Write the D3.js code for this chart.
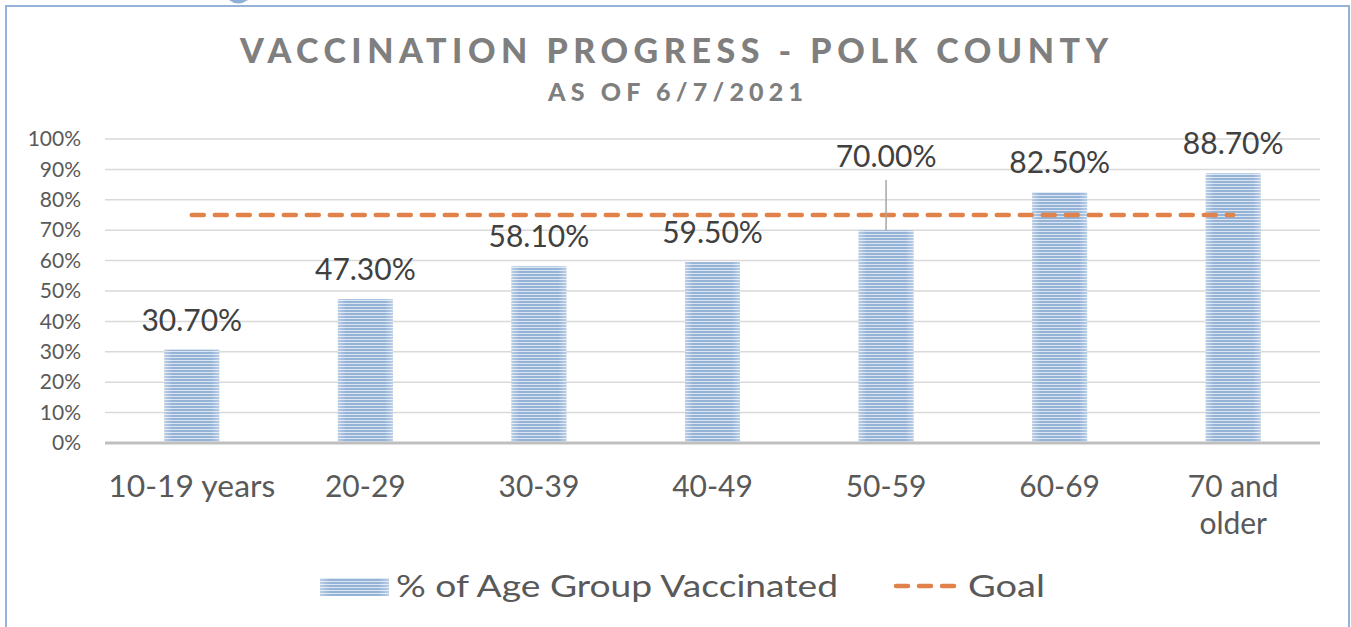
<!DOCTYPE html>
<html>
<head>
<meta charset="utf-8">
<script src="https://cdn.jsdelivr.net/npm/d3@7"></script>
<style>
  body { margin: 0; background: #fff; }
  svg { display: block; font-family: Lato, "Noto Sans", sans-serif; }
</style>
</head>
<body>
<svg id="chart"></svg>
<script>
// data
const ageGroups = ['10-19 years', '20-29', '30-39', '40-49', '50-59', '60-69', '70 and older'];
const pctVaccinated = [0.307, 0.473, 0.581, 0.595, 0.700, 0.825, 0.887];
const goalValues = [0.75, 0.75, 0.75, 0.75, 0.75, 0.75, 0.75];
const yTicks = [0, 0.1, 0.2, 0.3, 0.4, 0.5, 0.6, 0.7, 0.8, 0.9, 1.0];
const seriesNames = ['% of Age Group Vaccinated', 'Goal'];
const titleText = 'VACCINATION PROGRESS - POLK COUNTY';
const subtitleText = 'AS OF 6/7/2021';

class BarGoalChart {
    constructor(_config) {
        this.config = {
            parentElement: _config.parentElement,
            containerWidth: _config.containerWidth || 1351,
            containerHeight: _config.containerHeight || 627,
            margin: {top: 139, right: 31, bottom: 184, left: 105}
        };
        this.initVis();
    }

    initVis() {
        let vis = this;
        vis.width = vis.config.containerWidth - vis.config.margin.left - vis.config.margin.right;
        vis.height = vis.config.containerHeight - vis.config.margin.top - vis.config.margin.bottom;

        vis.svg = d3.select(vis.config.parentElement)
            .attr('width', vis.config.containerWidth)
            .attr('height', vis.config.containerHeight);

        // striped fill for the bars
        const defs = vis.svg.append('defs');
        const pat = defs.append('pattern')
            .attr('id', 'stripes')
            .attr('patternUnits', 'userSpaceOnUse')
            .attr('width', 8).attr('height', 3);
        pat.append('rect').attr('width', 8).attr('height', 3).attr('fill', '#dbe5f1');
        pat.append('rect').attr('width', 8).attr('height', 2).attr('fill', '#95b3d7');

        const grad = defs.append('linearGradient').attr('id', 'edgeGlow');
        grad.append('stop').attr('offset', '0%').attr('stop-color', '#fff').attr('stop-opacity', 0.35);
        grad.append('stop').attr('offset', '15%').attr('stop-color', '#fff').attr('stop-opacity', 0);
        grad.append('stop').attr('offset', '85%').attr('stop-color', '#fff').attr('stop-opacity', 0);
        grad.append('stop').attr('offset', '100%').attr('stop-color', '#fff').attr('stop-opacity', 0.35);

        // bit of a heading cut off above the frame
        vis.svg.append('path')
            .attr('d', 'M229,0 Q238,7 248,0 Z')
            .attr('fill', '#8fb0d6');
        // frame around the chart
        vis.svg.append('rect')
            .attr('x', 6).attr('y', 6)
            .attr('width', 1343).attr('height', 660)
            .attr('fill', 'none')
            .attr('stroke', '#95b3d7')
            .attr('stroke-width', 2);

        // titles
        vis.svg.append('text')
            .attr('x', 240).attr('y', 63)
            .attr('textLength', 868).attr('lengthAdjust', 'spacing')
            .attr('font-size', 34).attr('font-weight', 900)
            .attr('fill', '#7f7f7f')
            .text(titleText);
        vis.svg.append('text')
            .attr('x', 548).attr('y', 101)
            .attr('textLength', 255).attr('lengthAdjust', 'spacing')
            .attr('font-size', 25).attr('font-weight', 900)
            .attr('fill', '#7f7f7f')
            .text(subtitleText);

        vis.chart = vis.svg.append('g')
            .attr('transform', `translate(${vis.config.margin.left}, ${vis.config.margin.top})`);

        vis.xScale = d3.scaleBand()
            .domain(ageGroups)
            .range([0, vis.width])
            .paddingInner(0.683)
            .paddingOuter(0.3415);

        vis.yScale = d3.scaleLinear()
            .domain([0, 1])
            .range([vis.height, 0]);

        vis.updateVis();
    }

    updateVis() {
        let vis = this;
        const data = ageGroups.map((g, i) => ({group: g, value: pctVaccinated[i], goal: goalValues[i]}));

        // gridlines
        vis.chart.append('g')
            .attr('class', 'grid')
            .selectAll('line')
            .data(yTicks.filter(t => t > 0))
            .join('line')
                .attr('x1', 0).attr('x2', vis.width)
                .attr('y1', d => vis.yScale(d)).attr('y2', d => vis.yScale(d))
                .attr('stroke', '#d9d9d9')
                .attr('stroke-width', 1.5);

        // y axis labels
        const yAxis = vis.chart.append('g')
            .attr('class', 'axis y-axis')
            .call(d3.axisLeft(vis.yScale).tickValues(yTicks).tickFormat(d3.format('.0%')).tickSize(0).tickPadding(24));
        yAxis.select('.domain').remove();
        yAxis.selectAll('text')
            .attr('font-family', 'Lato, sans-serif')
            .attr('font-size', 21)
            .attr('fill', '#595959');

        // bars
        vis.chart.selectAll('.bar')
            .data(data)
            .join('rect')
                .attr('class', 'bar')
                .attr('x', d => vis.xScale(d.group))
                .attr('y', d => vis.yScale(d.value))
                .attr('width', vis.xScale.bandwidth())
                .attr('height', d => vis.height - vis.yScale(d.value))
                .attr('fill', 'url(#stripes)');
        vis.chart.selectAll('.bar-glow')
            .data(data)
            .join('rect')
                .attr('class', 'bar-glow')
                .attr('x', d => vis.xScale(d.group))
                .attr('y', d => vis.yScale(d.value))
                .attr('width', vis.xScale.bandwidth())
                .attr('height', d => vis.height - vis.yScale(d.value))
                .attr('fill', 'url(#edgeGlow)');

        // baseline
        vis.chart.append('line')
            .attr('x1', 0).attr('x2', vis.width)
            .attr('y1', vis.height).attr('y2', vis.height)
            .attr('stroke', '#bfbfbf')
            .attr('stroke-width', 3);

        const cx = d => vis.xScale(d.group) + vis.xScale.bandwidth() / 2;

        // goal line
        const line = d3.line().x(cx).y(d => vis.yScale(d.goal));
        vis.chart.append('path')
            .datum(data)
            .attr('d', line)
            .attr('fill', 'none')
            .attr('stroke', '#e0824a')
            .attr('stroke-width', 4.5)
            .attr('stroke-linecap', 'round')
            .attr('stroke-dasharray', '12,11');

        // data labels (the 50-59 one was dragged up with a leader line)
        const lifted = '50-59';
        const labelY = d => d.group === lifted ? 28 : vis.yScale(d.value) - 19;
        vis.chart.selectAll('.leader')
            .data(data.filter(d => d.group === lifted))
            .join('line')
                .attr('class', 'leader')
                .attr('x1', cx).attr('x2', cx)
                .attr('y1', 41).attr('y2', d => vis.yScale(d.value))
                .attr('stroke', '#a6a6a6')
                .attr('stroke-width', 1.5);
        vis.chart.selectAll('.label')
            .data(data)
            .join('text')
                .attr('class', 'label')
                .attr('x', cx)
                .attr('y', labelY)
                .attr('text-anchor', 'middle')
                .attr('font-size', 30)
                .attr('fill', '#404040')
                .text(d => d3.format('.2%')(d.value));

        // x axis labels
        const xl = vis.chart.selectAll('.x-label')
            .data(data)
            .join('text')
                .attr('class', 'x-label')
                .attr('text-anchor', 'middle')
                .attr('font-size', 30)
                .attr('fill', '#595959');
        xl.each(function(d) {
            const lines = d.group === '70 and older' ? ['70 and', 'older'] : [d.group];
            d3.select(this).selectAll('tspan')
                .data(lines)
                .join('tspan')
                    .attr('x', cx(d))
                    .attr('y', (l, i) => vis.height + 54 + i * 37)
                    .text(l => l);
        });
        xl.filter(d => d.group === '10-19 years')
            .attr('textLength', 167).attr('lengthAdjust', 'spacingAndGlyphs');

        // legend
        const legend = vis.svg.append('g').attr('class', 'legend');
        legend.append('rect')
            .attr('x', 320).attr('y', 578)
            .attr('width', 69).attr('height', 18)
            .attr('fill', 'url(#stripes)');
        legend.append('rect')
            .attr('x', 320).attr('y', 578)
            .attr('width', 69).attr('height', 18)
            .attr('fill', 'url(#edgeGlow)');
        legend.append('text')
            .attr('x', 396).attr('y', 597)
            .attr('font-size', 31)
            .attr('textLength', 442).attr('lengthAdjust', 'spacingAndGlyphs')
            .attr('fill', '#595959')
            .text(seriesNames[0]);
        legend.append('line')
            .attr('x1', 896).attr('x2', 956)
            .attr('y1', 586).attr('y2', 586)
            .attr('stroke', '#e0824a')
            .attr('stroke-width', 4.5)
            .attr('stroke-linecap', 'round')
            .attr('stroke-dasharray', '12,11');
        legend.append('text')
            .attr('x', 968).attr('y', 597)
            .attr('font-size', 31)
            .attr('textLength', 77).attr('lengthAdjust', 'spacingAndGlyphs')
            .attr('fill', '#595959')
            .text(seriesNames[1]);
    }
}

new BarGoalChart({parentElement: '#chart'});
</script>
</body>
</html>
